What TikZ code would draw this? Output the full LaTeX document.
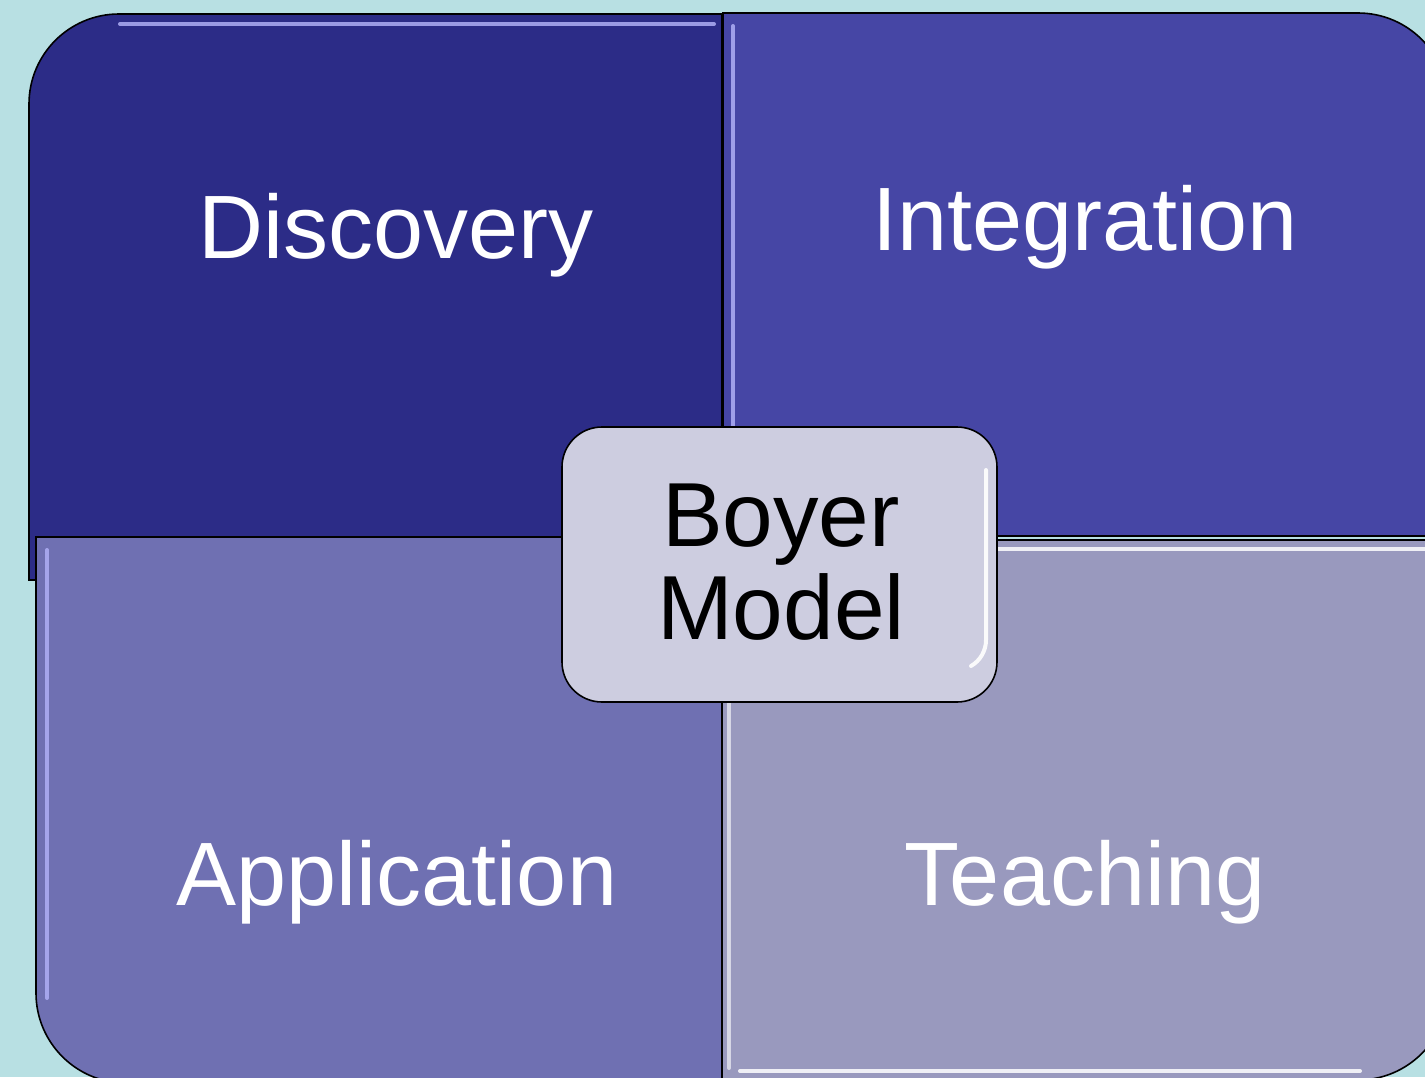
\documentclass[tikz,border=0pt]{standalone}
\usepackage{fontspec}
\setmainfont{Liberation Sans}
\definecolor{bg}{RGB}{184,224,227}
\definecolor{cTL}{RGB}{44,44,135}
\definecolor{cTR}{RGB}{70,70,165}
\definecolor{cBL}{RGB}{111,112,178}
\definecolor{cBR}{RGB}{153,153,190}
\definecolor{cC}{RGB}{205,205,224}
\definecolor{glow}{RGB}{175,175,245}
\tikzset{
  quad/.style={draw=black, line width=1.6pt},
  shine/.style={glow, line width=4pt, line cap=round, opacity=0.85},
  lbl/.style={text=white, font=\fontsize{90}{108}\selectfont, anchor=base, inner sep=0pt},
  hub/.style={draw=black, line width=1.6pt, fill=cC, rounded corners=40pt, minimum width=435pt, minimum height=275pt, inner sep=0pt},
  hubtext/.style={anchor=base, inner sep=0pt, font=\fontsize{91}{93}\selectfont}
}
\begin{document}
\begin{tikzpicture}[x=1pt,y=-1pt]
\useasboundingbox (0,0) rectangle (1425,1077);
\fill[bg] (0,0) rectangle (1425,1077);
\begin{scope}
\clip (0,0) rectangle (1425,1077);
% top-left
\draw[quad, fill=cTL] (722,580) -- (29,580) -- (29,104) arc[start angle=180,end angle=270,radius=90] -- (722,14) -- cycle;
\draw[shine] (120,24) -- (714,24);
% top-right
\draw[quad, fill=cTR] (723,536) -- (723,13) -- (1358,13) arc[start angle=270,end angle=360,radius=90] -- (1448,536) -- cycle;
\draw[shine] (733,26) -- (733,530);
% bottom-left
\draw[quad, fill=cBL] (722,537) -- (36,537) -- (36,993) arc[start angle=180,end angle=90,radius=90] -- (722,1083) -- cycle;
\draw[shine] (47,550) -- (47,998);
% bottom-right
\draw[quad, fill=cBR] (722,540) -- (1448,540) -- (1448,990) arc[start angle=0,end angle=90,radius=90] -- (722,1080) -- cycle;
\draw[shine, white] (733,549) -- (1425,549);
\draw[shine, white, opacity=0.6] (729,550) -- (729,1068);
\draw[shine, white] (740,1071) -- (1360,1071);
\end{scope}
% labels
\node[lbl] (disc) at (396,258) {Discovery};
\node[lbl] (integ) at (1085,250) {Integration};
\node[lbl] (appl) at (397,905) {Application};
\node[lbl] (teach) at (1085,905) {Teaching};
% hub
\node[hub] (boyer) at (779.5,564.5) {};
\draw[white, line width=4pt, line cap=round, opacity=0.9] (986,470) -- (986,640) arc[start angle=0,end angle=60,radius=30];
\node[hubtext] (b1) at (781,546) {Boyer};
\node[hubtext] (b2) at (781,639) {Model};
\end{tikzpicture}
\end{document}
